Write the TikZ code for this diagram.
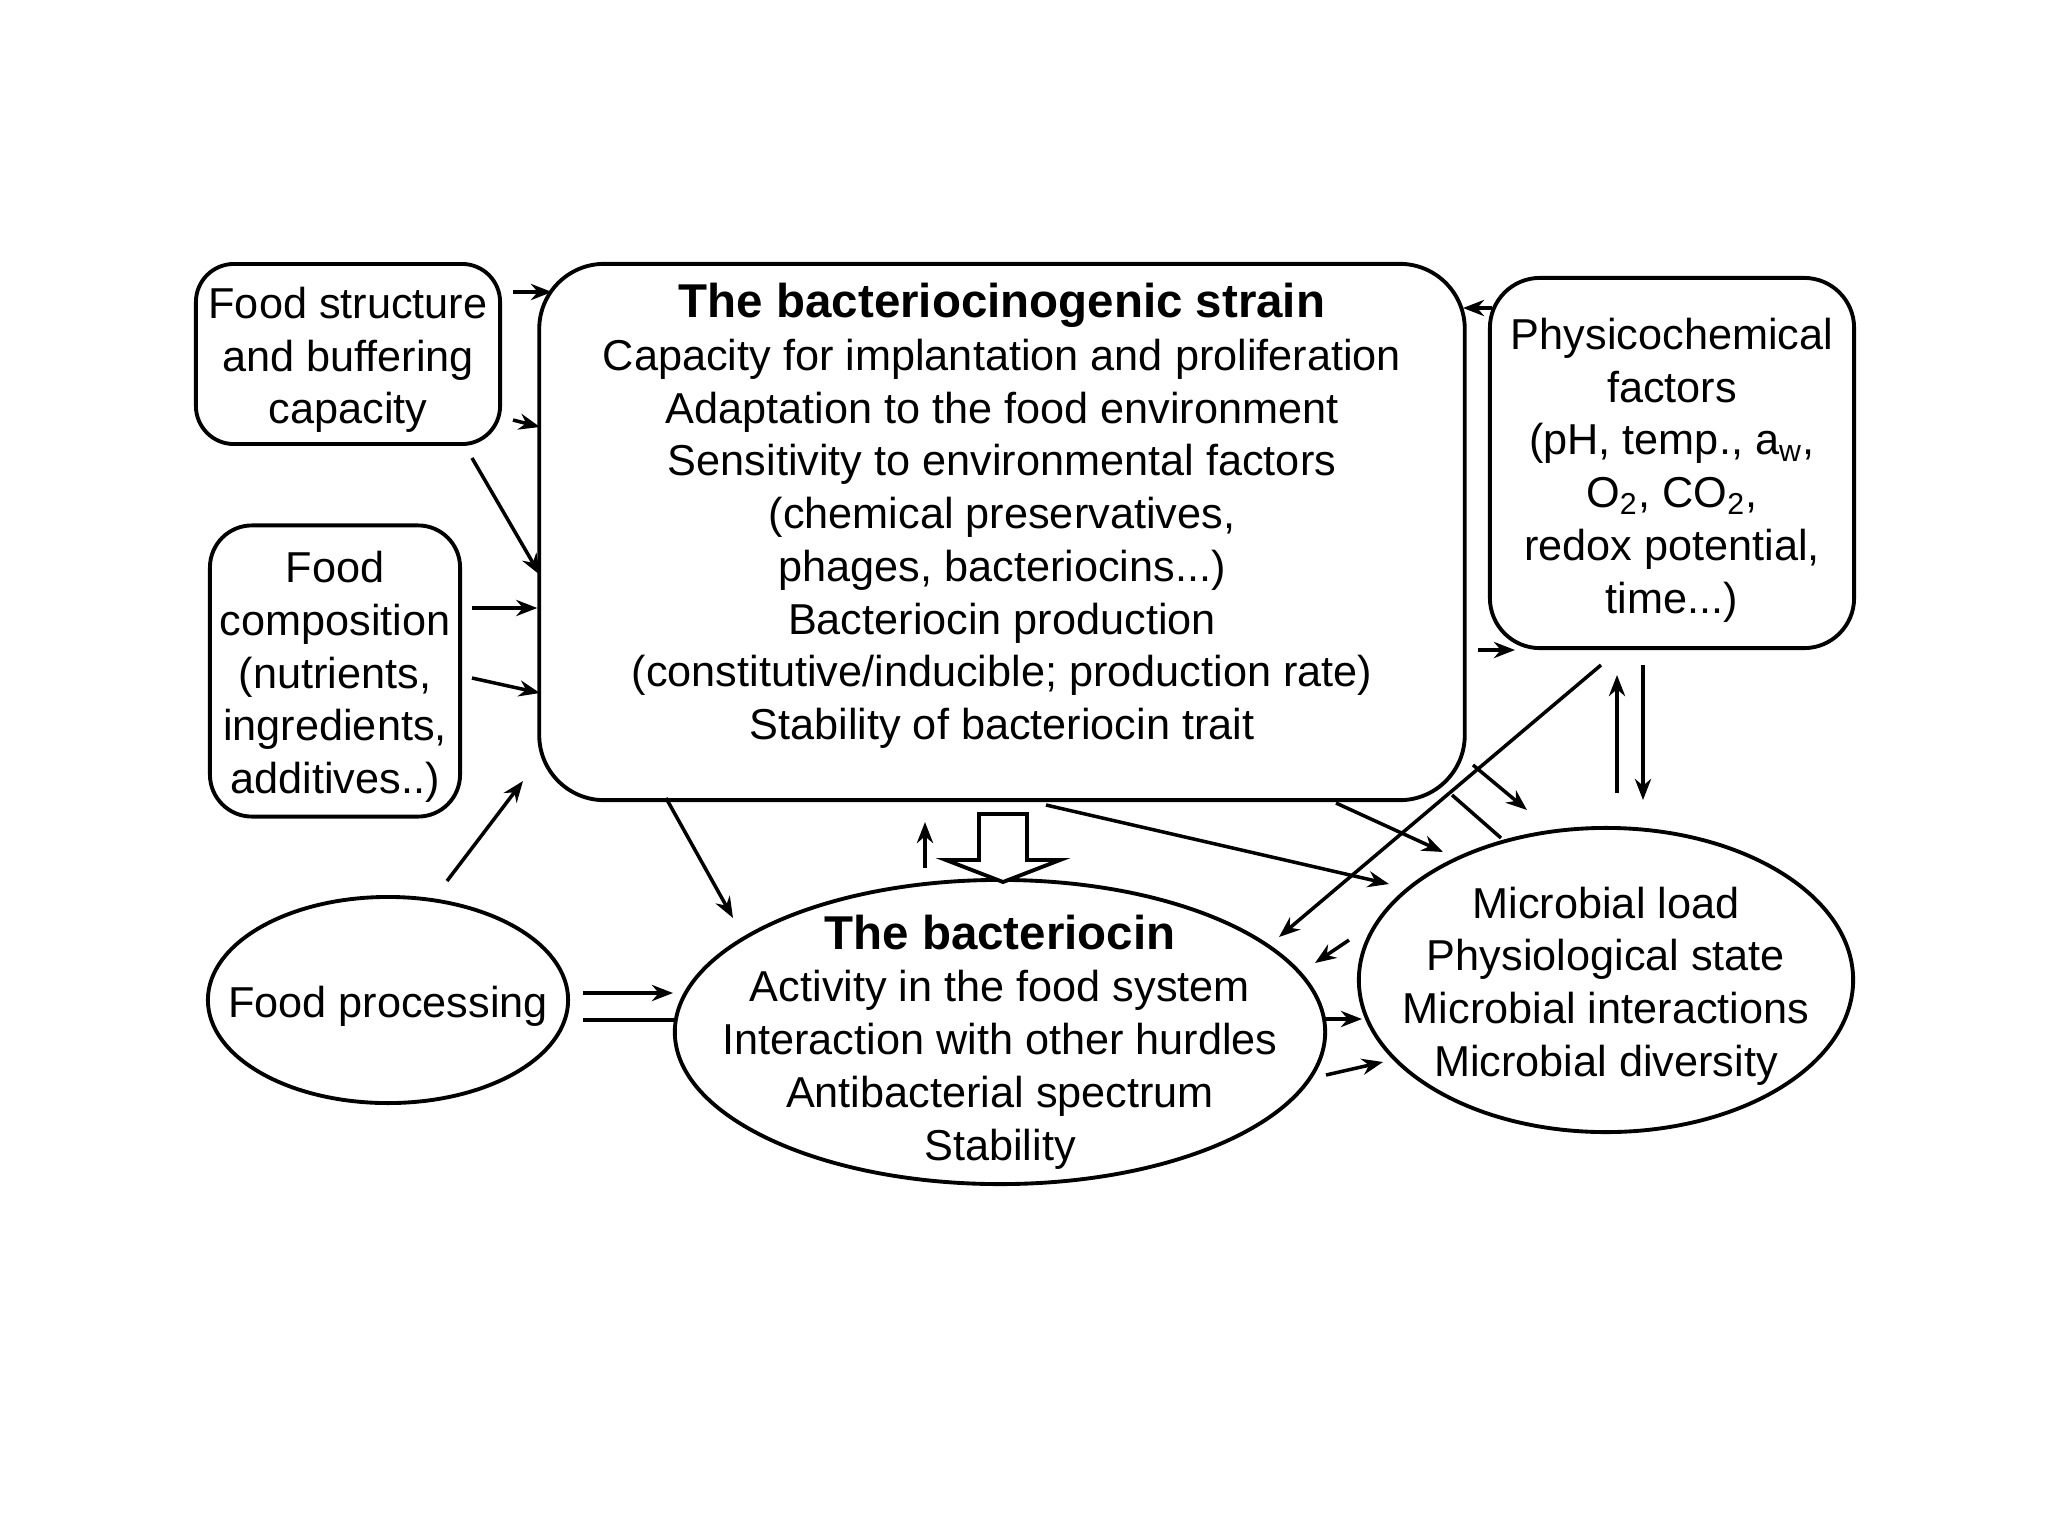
\documentclass[tikz,border=0pt]{standalone}
\usepackage{fontspec}
\setmainfont{Liberation Sans}
\usetikzlibrary{shapes.geometric, arrows.meta, positioning}

\tikzset{
  rbox/.style={draw, line width=1.1pt, rectangle, inner sep=1pt},
  oval/.style={draw, line width=1.1pt, ellipse, inner sep=0pt},
  txt/.style={align=center, font=\fontsize{12.3}{15}\selectfont, yshift=-0.06cm},
  arr/.style={-{Stealth[length=6pt,width=4.6pt]}, line width=1pt},
  pipe/.style={line width=1.4pt},
}

\begin{document}
\begin{tikzpicture}[x=0.01cm, y=-0.01cm]
    \useasboundingbox (0,0) rectangle (2048,1536);

    % boxes and ovals
    \node[rbox, minimum width=3.04cm, minimum height=1.8cm, rounded corners=0.38cm] (fstruct) at (348,354) {};
    \node[txt] (fstructtxt) at (fstruct) {Food structure\\and buffering\\capacity};
    \node[rbox, minimum width=2.5cm, minimum height=2.91cm, rounded corners=0.42cm] (fcomp) at (335,671) {};
    \node[txt] (fcomptxt) at (fcomp) {Food\\composition\\(nutrients,\\ingredients,\\additives..)};
    \node[oval, minimum width=3.6cm, minimum height=2.06cm] (fproc) at (388,1000) {};
    \node[txt] (fproctxt) at (fproc) {Food processing};

    \node[rbox, minimum width=9.25cm, minimum height=5.36cm, rounded corners=0.65cm] (strain) at (1002,532) {};
    \node[txt] (straintxt) at (1002,510)
        {{\fontsize{13.5}{15}\selectfont\bfseries The bacteriocinogenic strain}\\
         Capacity for implantation and proliferation\\
         Adaptation to the food environment\\
         Sensitivity to environmental factors\\
         (chemical preservatives,\\
         phages, bacteriocins...)\\
         Bacteriocin production\\
         (constitutive/inducible; production rate)\\
         Stability of bacteriocin trait};

    \node[rbox, minimum width=3.64cm, minimum height=3.7cm, rounded corners=0.5cm] (phys) at (1672,463) {};
    \node[txt] (phystxt) at (1672,464)
        {Physicochemical\\factors\\(pH, temp., a\textsubscript{w},\\O\textsubscript{2}, CO\textsubscript{2},\\redox potential,\\time...)};

    \node[oval, minimum width=6.5cm, minimum height=3.04cm] (bact) at (1000,1032) {};
    \node[txt] (bacttxt) at (1000,1036)
        {{\fontsize{13.5}{15}\selectfont\bfseries The bacteriocin}\\
         Activity in the food system\\
         Interaction with other hurdles\\
         Antibacterial spectrum\\
         Stability};

    \node[oval, minimum width=4.94cm, minimum height=3.04cm] (micro) at (1606,980) {};
    \node[txt] (microtxt) at (micro)
        {Microbial load\\Physiological state\\Microbial interactions\\Microbial diversity};

    % loose ends of the connectors
    \coordinate (fs1) at (513,292);  \coordinate (fs1e) at (552,292);
    \coordinate (fs2) at (513,420);  \coordinate (fs2e) at (540,427);
    \coordinate (fs3) at (472,458);  \coordinate (fs3e) at (540,575);
    \coordinate (fc1) at (472,608);
    \coordinate (fc2) at (472,678);  \coordinate (fc2e) at (540,693);
    \coordinate (fp1) at (447,881);  \coordinate (fp1e) at (523,781);
    \coordinate (fp2) at (583,993);  \coordinate (fp2e) at (673,993);
    \coordinate (fp3) at (583,1020); \coordinate (fp3e) at (677,1020);
    \coordinate (sb1) at (666,798);  \coordinate (sb1e) at (733,918);
    \coordinate (bs1) at (925,868);  \coordinate (bs1e) at (925,822);
    \coordinate (sm1) at (1046,805); \coordinate (sm1e) at (1389,884);
    \coordinate (sm2) at (1336,803); \coordinate (sm2e) at (1443,852);
    \coordinate (pb1) at (1601,665); \coordinate (pb1e) at (1279,937);
    \coordinate (x1) at (1473,765);  \coordinate (x1e) at (1527,810);
    \coordinate (x2) at (1452,795);  \coordinate (x2e) at (1501,838);
    \coordinate (mb1) at (1349,940); \coordinate (mb1e) at (1315,963);
    \coordinate (bm1) at (1325,1019); \coordinate (bm1e) at (1362,1019);
    \coordinate (bm2) at (1326,1075); \coordinate (bm2e) at (1383,1062);
    \coordinate (mp1) at (1617,793); \coordinate (mp1e) at (1617,675);
    \coordinate (pm1) at (1643,665); \coordinate (pm1e) at (1643,800);
    \coordinate (sp1) at (1478,650); \coordinate (sp1e) at (1515,650);
    \coordinate (ps1) at (1492,308); \coordinate (ps1e) at (1463,308);

    % connectors
    \draw[arr] (fs1) -- (fs1e);
    \draw[arr] (fs2) -- (fs2e);
    \draw[arr] (fs3) -- (fs3e);
    \draw[arr] (fc1) -- (fc1 -| strain.west);
    \draw[arr] (fc2) -- (fc2e);
    \draw[arr] (fp1) -- (fp1e);
    \draw[arr, pipe] (fp2) -- (fp2e);
    \draw[pipe] (fp3) -- (fp3e);
    \draw[arr] (sb1) -- (sb1e);
    \draw[arr] (bs1) -- (bs1e);
    \draw[arr] (sm1) -- (sm1e);
    \draw[arr] (sm2) -- (sm2e);
    \draw[arr] (pb1) -- (pb1e);
    \draw[arr] (x1) -- (x1e);
    \draw[line width=1pt] (x2) -- (x2e);
    \draw[arr] (mb1) -- (mb1e);
    \draw[arr] (bm1) -- (bm1e);
    \draw[arr] (bm2) -- (bm2e);
    \draw[arr] (mp1) -- (mp1e);
    \draw[arr] (pm1) -- (pm1e);
    \draw[arr] (sp1) -- (sp1e);
    \draw[arr] (ps1) -- (ps1e);

    % hollow block arrow, strain to bacteriocin
    \draw[line width=1.1pt, fill=white] (979,814) -- (979,860) -- (946,860) -- (1003,882)
        -- (1060,860) -- (1027,860) -- (1027,814) -- cycle;
\end{tikzpicture}
\end{document}
